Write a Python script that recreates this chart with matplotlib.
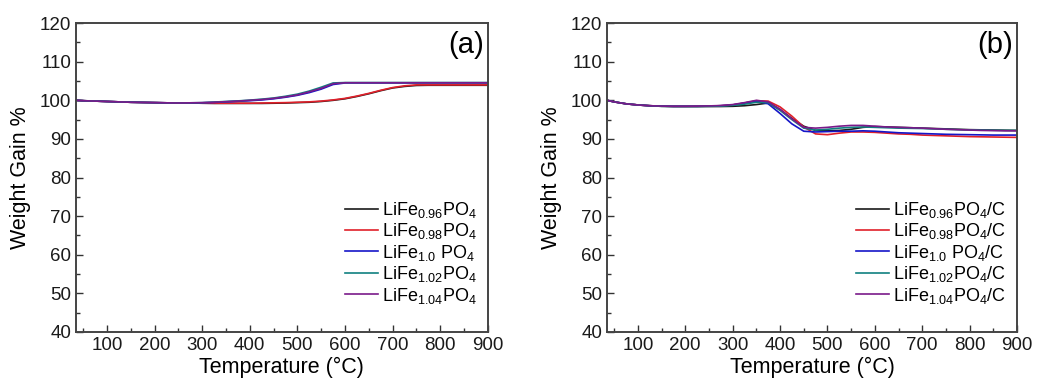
import matplotlib
matplotlib.use("Agg")
import matplotlib.pyplot as plt
import numpy as np

plt.rcParams['font.family'] = ['Liberation Sans', 'DejaVu Sans']
plt.rcParams['mathtext.fontset'] = 'custom'
plt.rcParams['mathtext.rm'] = 'Liberation Sans'

# ---------------- data ----------------
temp_a = [35, 50, 75, 100, 125, 150, 175, 200, 225, 250, 275, 300, 325, 350, 375,
          400, 425, 450, 475, 500, 525, 550, 575, 600, 625, 650, 675, 700, 725,
          750, 775, 800, 825, 850, 875, 900]

a_096 = [100.0, 99.9, 99.8, 99.7, 99.6, 99.5, 99.45, 99.4, 99.35, 99.3, 99.3, 99.25, 99.2, 99.2, 99.2,
         99.2, 99.2, 99.25, 99.3, 99.4, 99.5, 99.7, 100.0, 100.4, 101.0, 101.7, 102.5, 103.2, 103.6,
         103.85, 103.9, 103.9, 103.9, 103.9, 103.9, 103.9]
a_098 = [100.0, 99.9, 99.8, 99.7, 99.6, 99.5, 99.45, 99.4, 99.35, 99.3, 99.3, 99.25, 99.25, 99.25, 99.25,
         99.25, 99.3, 99.35, 99.4, 99.5, 99.6, 99.8, 100.1, 100.5, 101.1, 101.8, 102.6, 103.3, 103.75,
         104.0, 104.0, 104.0, 104.0, 104.0, 104.0, 104.0]
a_100 = [100.0, 99.9, 99.8, 99.7, 99.6, 99.5, 99.45, 99.4, 99.35, 99.3, 99.3, 99.35, 99.45, 99.6, 99.75,
         99.9, 100.1, 100.4, 100.8, 101.3, 102.0, 102.9, 104.1, 104.5, 104.5, 104.5, 104.5, 104.5, 104.5,
         104.5, 104.5, 104.5, 104.5, 104.5, 104.5, 104.5]
a_102 = [100.0, 99.9, 99.8, 99.7, 99.6, 99.5, 99.45, 99.4, 99.35, 99.3, 99.35, 99.4, 99.55, 99.7, 99.85,
         100.05, 100.3, 100.6, 101.05, 101.6, 102.4, 103.4, 104.5, 104.6, 104.6, 104.6, 104.6, 104.6, 104.6,
         104.6, 104.6, 104.6, 104.6, 104.6, 104.6, 104.6]
a_104 = [100.0, 99.9, 99.8, 99.7, 99.6, 99.5, 99.45, 99.4, 99.35, 99.3, 99.35, 99.4, 99.5, 99.65, 99.8,
         100.0, 100.2, 100.5, 100.9, 101.4, 102.2, 103.1, 104.3, 104.55, 104.55, 104.55, 104.55, 104.55, 104.55,
         104.55, 104.55, 104.55, 104.55, 104.55, 104.55, 104.55]

temp_b = [35, 50, 75, 100, 125, 150, 175, 200, 225, 250, 275, 300, 325, 350, 375,
          400, 425, 450, 475, 500, 525, 550, 575, 600, 625, 650, 675, 700, 725,
          750, 775, 800, 825, 850, 875, 900]

b_096 = [100.0, 99.6, 99.1, 98.8, 98.6, 98.45, 98.4, 98.4, 98.4, 98.4, 98.4, 98.45, 98.6, 98.9, 99.3,
         97.6, 95.3, 93.3, 92.2, 92.1, 92.2, 92.5, 93.0, 93.2, 93.1, 93.0, 92.9, 92.8, 92.7,
         92.6, 92.5, 92.4, 92.35, 92.3, 92.25, 92.2]
b_098 = [100.0, 99.6, 99.1, 98.8, 98.6, 98.5, 98.45, 98.45, 98.45, 98.5, 98.6, 98.8, 99.3, 99.9, 99.8,
         98.3, 95.9, 93.1, 91.3, 91.1, 91.5, 91.8, 91.8, 91.7, 91.5, 91.3, 91.2, 91.0, 90.9,
         90.8, 90.7, 90.6, 90.55, 90.5, 90.45, 90.4]
b_100 = [100.0, 99.6, 99.1, 98.8, 98.6, 98.5, 98.45, 98.45, 98.45, 98.5, 98.6, 98.8, 99.3, 99.8, 99.1,
         96.6, 93.9, 92.0, 91.8, 91.9, 92.0, 92.0, 92.1, 92.0, 91.8, 91.6, 91.5, 91.4, 91.3,
         91.2, 91.15, 91.1, 91.05, 91.0, 91.0, 91.0]
b_102 = [100.0, 99.6, 99.1, 98.8, 98.6, 98.45, 98.4, 98.4, 98.4, 98.45, 98.5, 98.7, 99.0, 99.5, 99.4,
         97.4, 95.0, 92.8, 92.3, 92.5, 92.8, 93.0, 93.1, 93.0, 92.9, 92.8, 92.75, 92.7, 92.6,
         92.5, 92.4, 92.35, 92.3, 92.25, 92.2, 92.2]
b_104 = [100.0, 99.6, 99.1, 98.8, 98.6, 98.5, 98.45, 98.45, 98.5, 98.55, 98.65, 98.9, 99.4, 100.0, 99.6,
         97.7, 95.2, 93.0, 92.8, 93.0, 93.3, 93.5, 93.5, 93.3, 93.1, 93.0, 92.9, 92.8, 92.65,
         92.5, 92.4, 92.3, 92.2, 92.15, 92.1, 92.1]

labels_a = [r'LiFe$\mathregular{_{0.96}}$PO$\mathregular{_4}$',
            r'LiFe$\mathregular{_{0.98}}$PO$\mathregular{_4}$',
            r'LiFe$\mathregular{_{1.0}}$ PO$\mathregular{_4}$',
            r'LiFe$\mathregular{_{1.02}}$PO$\mathregular{_4}$',
            r'LiFe$\mathregular{_{1.04}}$PO$\mathregular{_4}$']
labels_b = [l + '/C' for l in labels_a]

colors = ['#1a1a1a', '#e0202a', '#1515c8', '#108080', '#7a1a8a']

x_ticks = [100, 200, 300, 400, 500, 600, 700, 800, 900]
y_ticks = [40, 50, 60, 70, 80, 90, 100, 110, 120]

# ---------------- figure ----------------
fig = plt.figure(figsize=(10.38, 3.85), dpi=100)
ax1 = fig.add_axes([0.0732, 0.1377, 0.3968, 0.8023])
ax2 = fig.add_axes([0.5848, 0.1377, 0.3950, 0.8023])

def style(ax, tag, series, temps, labels, legend_x):
    for ys, c, lab in zip(series, colors, labels):
        ax.plot(temps, ys, color=c, lw=1.2, label=lab)
    ax.set_xlim(35, 900)
    ax.set_ylim(40, 120)
    ax.set_xticks(x_ticks)
    ax.set_yticks(y_ticks)
    ax.set_xticks(np.arange(50, 901, 50), minor=True)
    ax.set_yticks(np.arange(40, 121, 5), minor=True)
    ax.tick_params(which='both', direction='in', labelsize=13.5, colors='#333333',
                   labelcolor='#1a1a1a')
    ax.tick_params(which='major', length=5, width=1.0)
    ax.tick_params(which='minor', length=3, width=1.0)
    for s in ax.spines.values():
        s.set_color('#444444')
        s.set_linewidth(1.4)
    ax.set_xlabel('Temperature (°C)', fontsize=15.5, labelpad=2)
    ax.set_ylabel('Weight Gain %', fontsize=15.5, labelpad=6)
    ax.text(0.99, 0.93, tag, transform=ax.transAxes, ha='right', va='center', fontsize=21)
    ax.legend(loc='lower right', bbox_to_anchor=legend_x, frameon=False, fontsize=13,
              handlelength=1.8, handletextpad=0.25, labelspacing=0.08, borderaxespad=0.2)

style(ax1, '(a)', [a_096, a_098, a_100, a_102, a_104], temp_a, labels_a, (1.0, 0.05))
style(ax2, '(b)', [b_096, b_098, b_100, b_102, b_104], temp_b, labels_b, (1.0, 0.05))

fig.savefig('out.png', dpi=100)
